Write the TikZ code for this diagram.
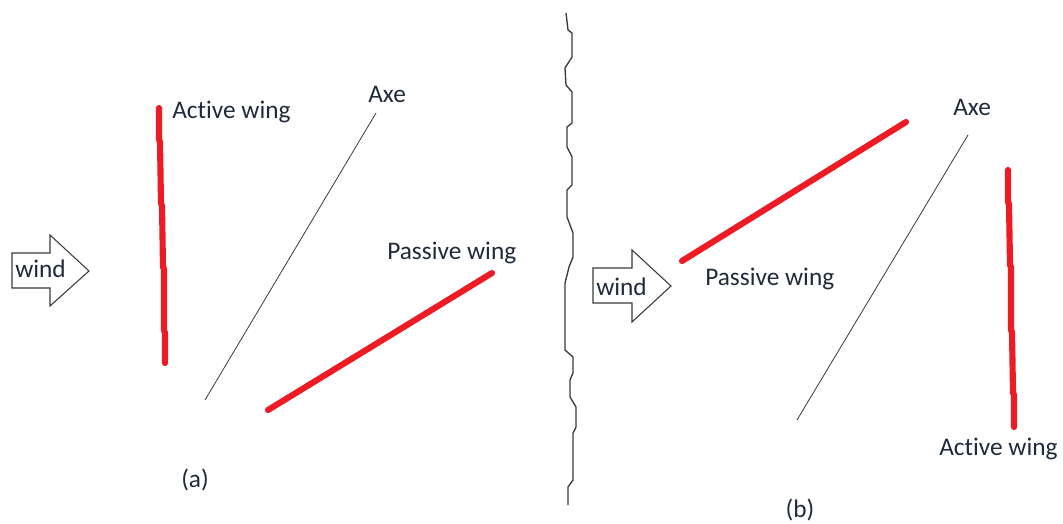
\documentclass[tikz,border=0pt]{standalone}
\usepackage{fontspec}
\setmainfont[Ligatures=NoCommon]{Carlito}
\usepackage{xcolor}
\definecolor{wingred}{HTML}{ED1C24}
\definecolor{inkgray}{HTML}{3A3A3A}
\definecolor{textdark}{HTML}{1F2A3A}
\usepackage{tikz}
\usetikzlibrary{positioning}

\begin{document}
\begin{tikzpicture}[
        x=0.75pt, y=-0.75pt,
        wing/.style={line width=4.6pt, draw=wingred, line cap=round, line join=round},
        axe/.style={line width=0.6pt, draw=inkgray},
        windbox/.style={line width=0.8pt, draw=inkgray, fill=white},
        divider/.style={line width=1pt, draw=inkgray},
        label/.style={font=\fontsize{19}{21}\selectfont, text=textdark, inner sep=0pt, anchor=base west}
    ]
        \useasboundingbox (0,0) rectangle (1063,524);

        % (a) wind arrow
        \draw[windbox] (12,253) -- (50,253) -- (50,235) -- (89,271) -- (50,306) -- (50,288) -- (12,288) -- cycle;
        \node[label] (windA) at (15,277) {wind};

        % (a) wings and axe
        \draw[wing] (159,108) -- (159,139) -- (160,142) -- (161,203) -- (162,206) -- (163,267) -- (164,269) -- (164,330) -- (165,333) -- (165,363);
        \node[label] (activeA) at (172,119) {Active wing};
        \draw[axe] (205,400) -- (376,113);
        \node[label] (axeA) at (368,103) {Axe};
        \draw[wing] (268,410) -- (492,273);
        \node[label] (passiveA) at (387,259) {Passive wing};
        \node[label, anchor=center] (capA) at (195,480) {(a)};

        % divider
        \draw[divider] (566,13) -- (568,30) -- (572,33) -- (572,57) -- (565,68) -- (566,85) -- (572,92) -- (572,123) -- (567,127) -- (567,147) -- (572,157) -- (572,185) -- (567,190) -- (567,217) -- (573,233) -- (573,257) -- (569,267) -- (565,283) -- (565,350) -- (573,357) -- (573,373) -- (570,380) -- (570,397) -- (576,407) -- (576,427) -- (573,433) -- (573,480) -- (568,487) -- (568,505);

        % (b) wind arrow
        \draw[windbox] (593,268) -- (632,268) -- (632,250) -- (671,286) -- (632,322) -- (632,303) -- (593,303) -- cycle;
        \node[label] (windB) at (596,295) {wind};

        % (b) wings and axe
        \draw[wing] (682,261) -- (906,122);
        \node[label] (passiveB) at (705,285) {Passive wing};
        \draw[axe] (797,420) -- (968,135);
        \node[label] (axeB) at (953,116) {Axe};
        \draw[wing] (1008,170) -- (1008,202) -- (1009,204) -- (1010,265) -- (1011,267) -- (1011,330) -- (1012,332) -- (1013,393) -- (1014,395) -- (1014,427);
        \node[label] (activeB) at (939,455) {Active wing};
        \node[label, anchor=center] (capB) at (800,510) {(b)};

    \end{tikzpicture}
\end{document}
